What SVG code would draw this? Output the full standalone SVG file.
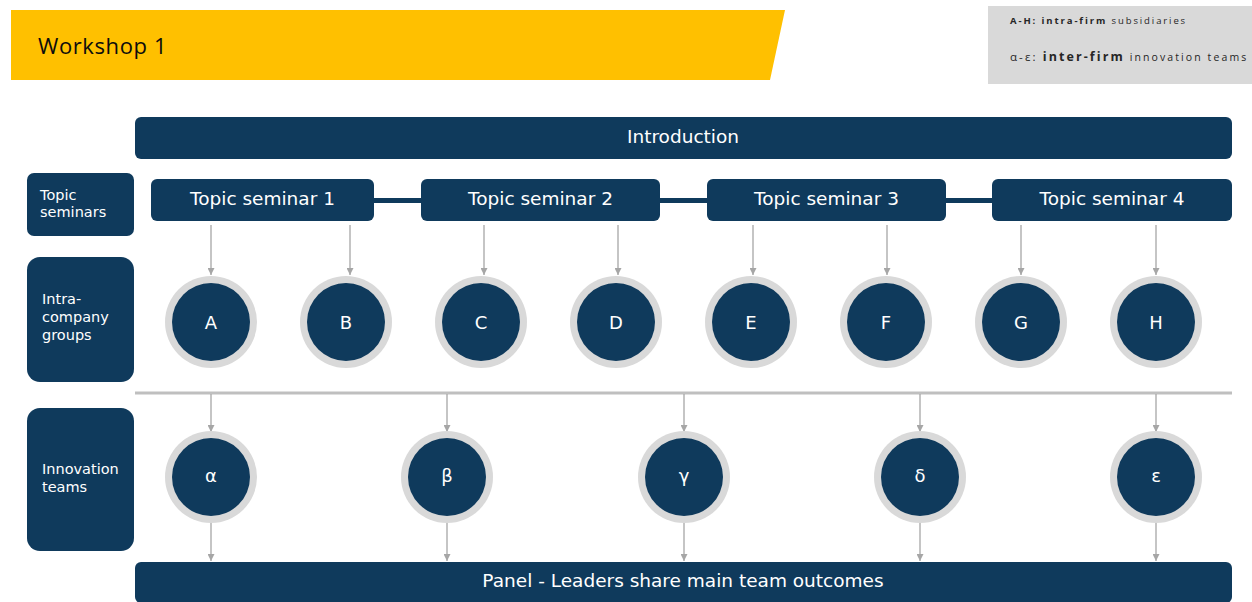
<svg xmlns="http://www.w3.org/2000/svg" width="1252" height="602" viewBox="0 0 1252 602">
  <defs>
    <marker id="arrow" viewBox="0 0 10 10" refX="10" refY="5" markerWidth="7" markerHeight="7" markerUnits="userSpaceOnUse" orient="auto">
      <path d="M0,0 L10,5 L0,10 z" fill="#a6a6a6"/>
    </marker>
    <style>
      .bar { fill: #0f3a5c; }
      .lbl { fill: #ffffff; font-family: "DejaVu Sans", Verdana, sans-serif; }
      .big { font-size: 18.5px; text-anchor: middle; }
      .side { font-size: 14.5px; }
      .ring { fill: #d9d9d9; }
      .core { fill: #0f3a5c; }
      .ltr { fill: #ffffff; font-family: "DejaVu Sans", Verdana, sans-serif; font-size: 18px; text-anchor: middle; }
      .conn { stroke: #a6a6a6; stroke-width: 1.3; fill: none; marker-end: url(#arrow); }
      .legend { font-family: "Open Sans", "Noto Sans", sans-serif; fill: #262626; }
    </style>
  </defs>

  <rect width="1252" height="602" fill="#ffffff"/>

  <!-- title banner -->
  <g id="title">
    <polygon points="11,10 785,10 770,80 11,80" fill="#ffc000"/>
    <text x="38" y="54" font-family="'Open Sans', 'Noto Sans', sans-serif" font-size="22" letter-spacing="0.6" fill="#0d0d0d">Workshop 1</text>
  </g>

  <!-- legend -->
  <g id="legend">
    <rect x="988" y="6" width="264" height="78" fill="#d9d9d9"/>
    <text class="legend" x="1010" y="24" font-size="9.5" style="letter-spacing:1.9px"><tspan font-weight="bold">A-H: intra-firm</tspan> subsidiaries</text>
    <text class="legend" x="1010" y="61" font-size="10.5" style="letter-spacing:2.1px"><tspan font-size="11.5">α-ε: </tspan><tspan font-weight="bold" font-size="12.5">inter-firm</tspan> innovation teams</text>
  </g>

  <!-- row labels -->
  <g id="label-topics">
    <rect class="bar" x="27" y="173" width="107" height="63" rx="7"/>
    <text class="lbl side" x="40" y="200">Topic</text>
    <text class="lbl side" x="40" y="217">seminars</text>
  </g>
  <g id="label-groups">
    <rect class="bar" x="27" y="257" width="107" height="125" rx="13"/>
    <text class="lbl side" x="42" y="304">Intra-</text>
    <text class="lbl side" x="42" y="322">company</text>
    <text class="lbl side" x="42" y="340">groups</text>
  </g>
  <g id="label-teams">
    <rect class="bar" x="27" y="408" width="107" height="143" rx="13"/>
    <text class="lbl side" x="42" y="474">Innovation</text>
    <text class="lbl side" x="42" y="492">teams</text>
  </g>

  <!-- introduction -->
  <g id="introduction">
    <rect class="bar" x="135" y="117" width="1097" height="42" rx="6"/>
    <text class="lbl big" x="683" y="143">Introduction</text>
  </g>

  <!-- links between topic seminars -->
  <g id="seminar-links">
    <rect class="bar" x="370" y="198" width="55" height="5"/>
    <rect class="bar" x="656" y="198" width="55" height="5"/>
    <rect class="bar" x="942" y="198" width="55" height="5"/>
  </g>

  <g id="seminar-1">
    <rect class="bar" x="151" y="179" width="223" height="42" rx="6"/>
    <text class="lbl big" x="262.5" y="205">Topic seminar 1</text>
  </g>
  <g id="seminar-2">
    <rect class="bar" x="421" y="179" width="239" height="42" rx="6"/>
    <text class="lbl big" x="540.5" y="205">Topic seminar 2</text>
  </g>
  <g id="seminar-3">
    <rect class="bar" x="707" y="179" width="239" height="42" rx="6"/>
    <text class="lbl big" x="826.5" y="205">Topic seminar 3</text>
  </g>
  <g id="seminar-4">
    <rect class="bar" x="992" y="179" width="240" height="42" rx="6"/>
    <text class="lbl big" x="1112" y="205">Topic seminar 4</text>
  </g>

  <!-- separator -->
  <line x1="135" y1="393" x2="1232" y2="393" stroke="#bfbfbf" stroke-width="3"/>

  <!-- connectors -->
  <g id="connectors">
    <line class="conn" x1="211" y1="225" x2="211" y2="275"/>
    <line class="conn" x1="350" y1="225" x2="350" y2="275"/>
    <line class="conn" x1="484" y1="225" x2="484" y2="275"/>
    <line class="conn" x1="618" y1="225" x2="618" y2="275"/>
    <line class="conn" x1="753" y1="225" x2="753" y2="275"/>
    <line class="conn" x1="887" y1="225" x2="887" y2="275"/>
    <line class="conn" x1="1021" y1="225" x2="1021" y2="275"/>
    <line class="conn" x1="1156" y1="225" x2="1156" y2="275"/>

    <line class="conn" x1="211" y1="394" x2="211" y2="432"/>
    <line class="conn" x1="447" y1="394" x2="447" y2="432"/>
    <line class="conn" x1="684" y1="394" x2="684" y2="432"/>
    <line class="conn" x1="920" y1="394" x2="920" y2="432"/>
    <line class="conn" x1="1156" y1="394" x2="1156" y2="432"/>

    <line class="conn" x1="211" y1="523" x2="211" y2="561"/>
    <line class="conn" x1="447" y1="523" x2="447" y2="561"/>
    <line class="conn" x1="684" y1="523" x2="684" y2="561"/>
    <line class="conn" x1="920" y1="523" x2="920" y2="561"/>
    <line class="conn" x1="1156" y1="523" x2="1156" y2="561"/>
  </g>

  <!-- intra-company groups -->
  <g id="group-A"><circle class="ring" cx="211" cy="322" r="46"/><circle class="core" cx="211" cy="322" r="39"/><text class="ltr" x="211" y="328.5">A</text></g>
  <g id="group-B"><circle class="ring" cx="346" cy="322" r="46"/><circle class="core" cx="346" cy="322" r="39"/><text class="ltr" x="346" y="328.5">B</text></g>
  <g id="group-C"><circle class="ring" cx="481" cy="322" r="46"/><circle class="core" cx="481" cy="322" r="39"/><text class="ltr" x="481" y="328.5">C</text></g>
  <g id="group-D"><circle class="ring" cx="616" cy="322" r="46"/><circle class="core" cx="616" cy="322" r="39"/><text class="ltr" x="616" y="328.5">D</text></g>
  <g id="group-E"><circle class="ring" cx="751" cy="322" r="46"/><circle class="core" cx="751" cy="322" r="39"/><text class="ltr" x="751" y="328.5">E</text></g>
  <g id="group-F"><circle class="ring" cx="886" cy="322" r="46"/><circle class="core" cx="886" cy="322" r="39"/><text class="ltr" x="886" y="328.5">F</text></g>
  <g id="group-G"><circle class="ring" cx="1021" cy="322" r="46"/><circle class="core" cx="1021" cy="322" r="39"/><text class="ltr" x="1021" y="328.5">G</text></g>
  <g id="group-H"><circle class="ring" cx="1156" cy="322" r="46"/><circle class="core" cx="1156" cy="322" r="39"/><text class="ltr" x="1156" y="328.5">H</text></g>

  <!-- innovation teams -->
  <g id="team-alpha"><circle class="ring" cx="211" cy="477" r="46"/><circle class="core" cx="211" cy="477" r="39"/><text class="ltr" x="211" y="482">α</text></g>
  <g id="team-beta"><circle class="ring" cx="447" cy="477" r="46"/><circle class="core" cx="447" cy="477" r="39"/><text class="ltr" x="447" y="482">β</text></g>
  <g id="team-gamma"><circle class="ring" cx="684" cy="477" r="46"/><circle class="core" cx="684" cy="477" r="39"/><text class="ltr" x="684" y="482">γ</text></g>
  <g id="team-delta"><circle class="ring" cx="920" cy="477" r="46"/><circle class="core" cx="920" cy="477" r="39"/><text class="ltr" x="920" y="482">δ</text></g>
  <g id="team-epsilon"><circle class="ring" cx="1156" cy="477" r="46"/><circle class="core" cx="1156" cy="477" r="39"/><text class="ltr" x="1156" y="482">ε</text></g>

  <!-- closing panel -->
  <g id="panel">
    <rect class="bar" x="135" y="562" width="1097" height="41" rx="6"/>
    <text class="lbl big" x="683" y="587">Panel - Leaders share main team outcomes</text>
  </g>
</svg>
